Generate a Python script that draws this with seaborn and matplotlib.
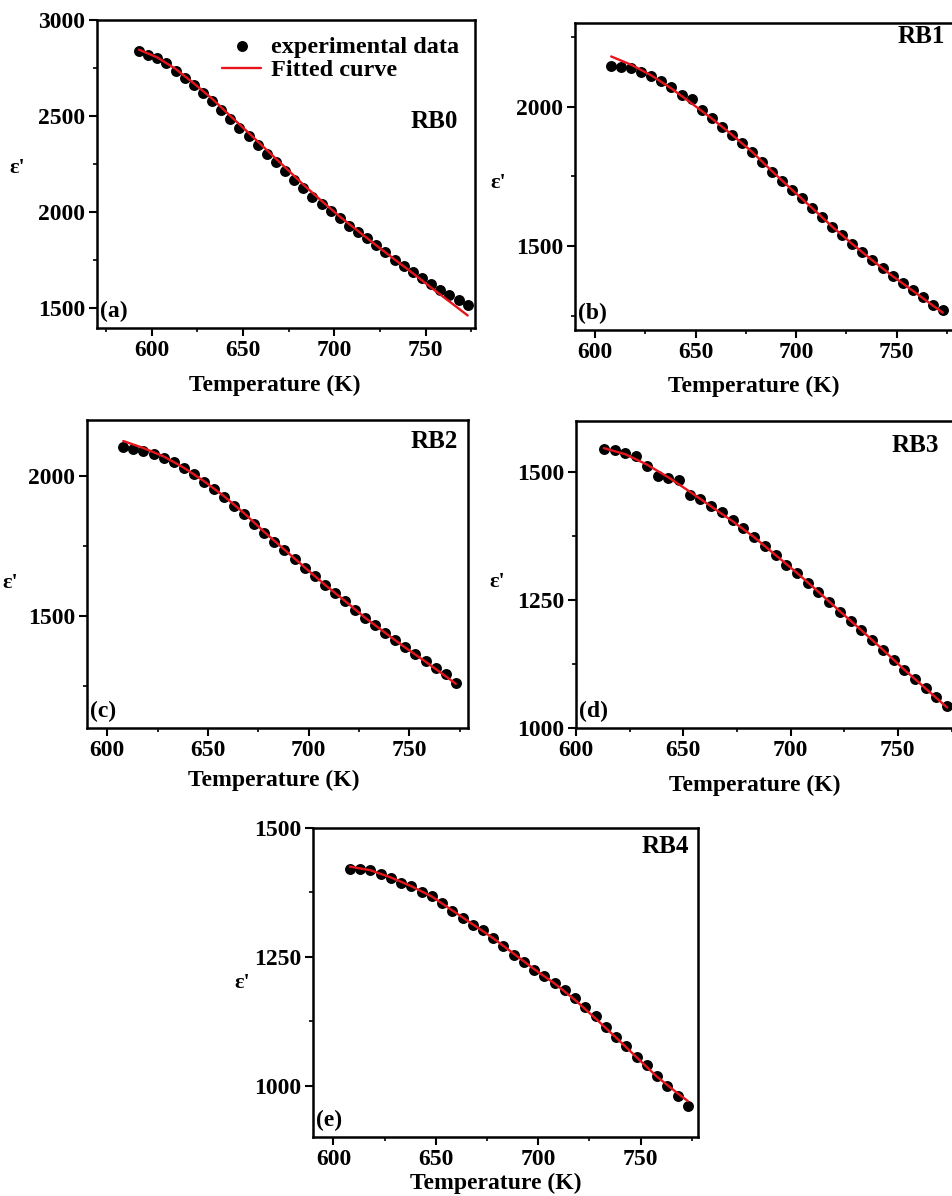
import numpy as np
import matplotlib
matplotlib.use('Agg')
import matplotlib.pyplot as plt
from matplotlib.ticker import MultipleLocator
import seaborn as sns

sns.set_theme(style='ticks')
plt.rcParams['font.family'] = ['Liberation Serif', 'DejaVu Serif']
plt.rcParams['font.weight'] = 'bold'
plt.rcParams['axes.labelweight'] = 'bold'
for key in ['text.color', 'axes.labelcolor', 'xtick.color', 'ytick.color', 'axes.edgecolor']:
    plt.rcParams[key] = 'black'

# ---- data ----
T_a = [593, 598, 603, 608, 613, 618, 623, 628, 633, 638, 643, 648, 653, 658, 663, 668, 673, 678, 683,
       688, 693, 698, 703, 708, 713, 718, 723, 728, 733, 738, 743, 748, 753, 758, 763, 768, 773]
eps_a = [2838, 2816, 2800, 2774, 2735, 2700, 2660, 2620, 2577, 2533, 2486, 2437, 2394, 2347, 2303, 2260,
         2213, 2167, 2124, 2080, 2042, 2003, 1967, 1928, 1894, 1862, 1828, 1789, 1751, 1716, 1685, 1653,
         1624, 1594, 1566, 1540, 1514]
fitT_a = [593, 603, 613, 623, 633, 643, 653, 663, 673, 683, 693, 703, 713, 723, 733, 743, 753, 763, 773]
fit_a = [2845, 2805, 2745, 2670, 2590, 2500, 2412, 2322, 2232, 2142, 2057, 1975, 1900, 1825, 1752, 1680,
         1605, 1533, 1460]

T_b = [608, 613, 618, 623, 628, 633, 638, 643, 648, 653, 658, 663, 668, 673, 678, 683, 688, 693,
       698, 703, 708, 713, 718, 723, 728, 733, 738, 743, 748, 753, 758, 763, 768, 773]
eps_b = [2147, 2144, 2138, 2126, 2111, 2093, 2072, 2042, 2027, 1989, 1958, 1928, 1900, 1869, 1839, 1801,
         1767, 1735, 1702, 1672, 1637, 1606, 1570, 1541, 1508, 1478, 1449, 1422, 1395, 1368, 1344, 1317,
         1291, 1270]
fitT_b = [608, 618, 628, 638, 648, 658, 668, 678, 688, 698, 708, 718, 728, 738, 748, 758, 768, 773]
fit_b = [2180, 2150, 2112, 2065, 2012, 1958, 1900, 1839, 1769, 1702, 1637, 1570, 1508, 1449, 1393, 1341,
         1288, 1262]

T_c = T_b
eps_c = [2103, 2097, 2091, 2079, 2063, 2049, 2027, 2006, 1980, 1953, 1925, 1893, 1864, 1828, 1795, 1765,
         1735, 1703, 1672, 1642, 1612, 1583, 1554, 1523, 1494, 1467, 1440, 1415, 1389, 1363, 1339, 1315,
         1293, 1260]
fitT_c = fitT_b
fit_c = [2125, 2100, 2070, 2030, 1982, 1928, 1867, 1800, 1737, 1674, 1612, 1554, 1494, 1440, 1387, 1337,
         1285, 1258]

T_d = [613, 618, 623, 628, 633, 638, 643, 648, 653, 658, 663, 668, 673, 678, 683, 688, 693, 698,
       703, 708, 713, 718, 723, 728, 733, 738, 743, 748, 753, 758, 763, 768, 773]
eps_d = [1545, 1543, 1537, 1531, 1512, 1492, 1488, 1485, 1456, 1447, 1434, 1423, 1406, 1390, 1373, 1355,
         1338, 1319, 1303, 1284, 1266, 1247, 1227, 1210, 1192, 1172, 1153, 1133, 1114, 1095, 1078, 1060,
         1043]
fitT_d = [613, 623, 633, 643, 653, 663, 673, 683, 693, 703, 713, 723, 733, 743, 753, 763, 773]
fit_d = [1547, 1535, 1515, 1490, 1462, 1433, 1404, 1373, 1338, 1303, 1266, 1228, 1191, 1153, 1114, 1077,
         1040]

T_e = T_b
eps_e = [1420, 1421, 1418, 1411, 1403, 1393, 1387, 1376, 1367, 1354, 1338, 1325, 1312, 1301, 1286, 1270,
         1254, 1239, 1225, 1213, 1200, 1186, 1170, 1153, 1135, 1114, 1095, 1076, 1056, 1039, 1019, 999,
         980, 960]
fitT_e = fitT_b
fit_e = [1425, 1418, 1404, 1387, 1367, 1340, 1313, 1286, 1256, 1226, 1198, 1166, 1130, 1093, 1055, 1017,
         985, 970]

panels = [
    # tag, sample, T, eps, fitT, fit, xlim, ylim, ymajor
    ('(a)', 'RB0', T_a, eps_a, fitT_a, fit_a, (570, 777), (1395, 3000), 500),
    ('(b)', 'RB1', T_b, eps_b, fitT_b, fit_b, (590, 779), (1200, 2300), 500),
    ('(c)', 'RB2', T_c, eps_c, fitT_c, fit_c, (590, 779), (1100, 2200), 500),
    ('(d)', 'RB3', T_d, eps_d, fitT_d, fit_d, (600, 777), (1000, 1600), 250),
    ('(e)', 'RB4', T_e, eps_e, fitT_e, fit_e, (590, 778), (900, 1500), 250),
]

# axes rectangles and label placements (axes coords)
rects = [[0.1019, 0.7258, 0.3970, 0.2575],
         [0.6040, 0.7241, 0.3990, 0.2567],
         [0.0914, 0.3913, 0.4000, 0.2575],
         [0.6050, 0.3913, 0.3990, 0.2567],
         [0.3288, 0.0493, 0.4044, 0.2584]]
xlabel_xy = [(0.47, -0.185), (0.47, -0.185), (0.49, -0.169), (0.47, -0.186), (0.475, -0.149)]
ylabel_xy = [(-0.212, 0.52), (-0.203, 0.48), (-0.202, 0.47), (-0.208, 0.475), (-0.184, 0.50)]
sample_xy = [(0.955, 0.67), (0.974, 0.955), (0.974, 0.93), (0.955, 0.92), (0.977, 0.94)]

fig = plt.figure(figsize=(9.52, 11.96), dpi=100)

for i, (tag, sample, T, eps, fitT, fit, xlim, ylim, ymaj) in enumerate(panels):
    ax = fig.add_axes(rects[i])
    sns.scatterplot(x=T, y=eps, color='black', s=62, linewidth=0, ax=ax, zorder=2)
    sns.lineplot(x=fitT, y=fit, color='#e8141c', linewidth=1.7, ax=ax, zorder=3)
    ax.set_xlim(*xlim)
    ax.set_ylim(*ylim)
    ax.xaxis.set_major_locator(MultipleLocator(50))
    ax.xaxis.set_minor_locator(MultipleLocator(25))
    ax.yaxis.set_major_locator(MultipleLocator(ymaj))
    ax.yaxis.set_minor_locator(MultipleLocator(ymaj / 2))
    ax.tick_params(which='major', direction='out', length=5.5, width=1.5, labelsize=17, pad=3)
    ax.tick_params(which='minor', direction='out', length=3, width=1.2)
    for lab in ax.get_xticklabels() + ax.get_yticklabels():
        lab.set_fontweight('bold')
    for sp in ax.spines.values():
        sp.set_visible(True)
        sp.set_linewidth(1.8)
    ax.set_xlabel('Temperature (K)', fontsize=17, fontweight='bold')
    ax.set_ylabel("ε'", fontsize=16, fontweight='bold', rotation=0)
    ax.xaxis.set_label_coords(*xlabel_xy[i])
    ax.yaxis.set_label_coords(*ylabel_xy[i])
    ax.xaxis.label.set_va('center')
    ax.yaxis.label.set_va('center')
    ax.yaxis.label.set_ha('center')
    ax.text(0.008, 0.02, tag, transform=ax.transAxes, fontsize=17, fontweight='bold',
            ha='left', va='bottom')
    ax.text(*sample_xy[i], sample, transform=ax.transAxes, fontsize=18, fontweight='bold',
            ha='right', va='center')
    if i == 0:
        handles = [ax.collections[0], ax.lines[0]]
        ax.legend(handles, ['experimental data', 'Fitted curve'], loc='upper right', frameon=False,
                  handlelength=1.6, handletextpad=0.4, labelspacing=0.05, borderaxespad=0.45,
                  borderpad=0.2, prop={'weight': 'bold', 'size': 17.5})

fig.savefig('out.png', dpi=100)
